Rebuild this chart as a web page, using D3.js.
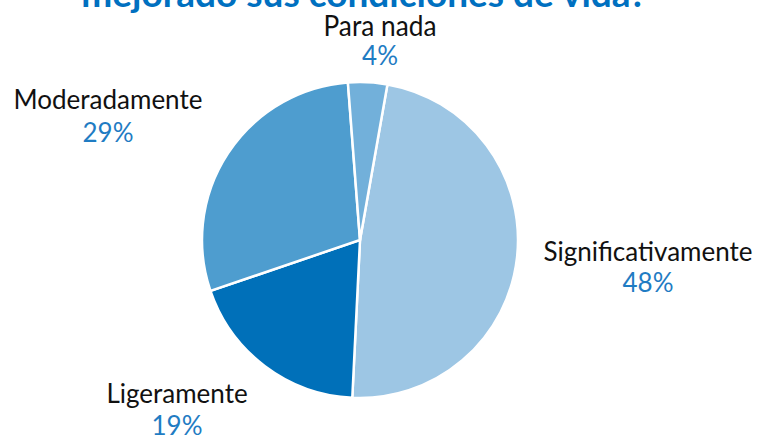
<!DOCTYPE html>
<html>
  <head>
    <meta charset="utf-8" />
    <title>Condiciones de vida</title>
    <script src="https://cdnjs.cloudflare.com/ajax/libs/d3/7.8.5/d3.min.js"></script>
    <style>
      body {
        margin: 0;
        background: #ffffff;
        font-family: Lato, "Noto Sans", sans-serif;
      }
      .slice {
        stroke: #ffffff;
        stroke-width: 2.5px;
      }
      .title {
        fill: #0070c0;
        font-weight: bold;
        font-size: 37px;
      }
      .cat {
        fill: #111111;
        font-size: 26px;
      }
      .pct {
        fill: #1f7cc3;
        font-size: 26px;
      }
    </style>
  </head>
  <body>
    <svg id="chart" width="759" height="438"></svg>
    <script>
      const width = 759;
      const height = 438;

      // data, clockwise from the top
      const categories = ["Significativamente", "Ligeramente", "Moderadamente", "Para nada"];
      const values = [48, 19, 29, 4];
      const colors = ["#9dc6e4", "#0070b9", "#4e9dcf", "#72b0da"];

      // where each label sits (center x, baseline of the name, gap to the %)
      const labelPos = [
        [648, 261, 31],
        [177, 403, 32],
        [108, 109, 33],
        [380, 36, 29],
      ];

      const svg = d3.select("#chart");

      // title, only its lower part shows
      svg
        .append("text")
        .attr("class", "title")
        .attr("x", 364)
        .attr("y", 7)
        .attr("text-anchor", "middle")
        .text("mejorado sus condiciones de vida?");

      const cx = 360;
      const cy = 240;
      const radius = 158;

      const startAngle = (10 * Math.PI) / 180;
      const pie = d3
        .pie()
        .sort(null)
        .startAngle(startAngle)
        .endAngle(startAngle + 2 * Math.PI);

      const arc = d3.arc().innerRadius(0).outerRadius(radius);

      const data = categories.map((c, i) => ({ name: c, value: values[i], i: i }));

      const g = svg.append("g").attr("transform", `translate(${cx},${cy})`);

      g.selectAll("path")
        .data(pie.value((d) => d.value)(data))
        .enter()
        .append("path")
        .attr("class", "slice")
        .attr("d", arc)
        .attr("fill", (d) => colors[d.data.i]);

      // labels
      const labels = svg
        .selectAll(".label")
        .data(data)
        .enter()
        .append("g")
        .attr("class", "label")
        .attr("transform", (d) => `translate(${labelPos[d.i][0]},${labelPos[d.i][1]})`);

      const names = labels
        .append("text")
        .attr("class", "cat")
        .attr("text-anchor", "middle")
        .text((d) => d.name);

      // "Para nada" is set tighter in the original
      names
        .filter((d) => d.i === 3)
        .style("font-size", "28px")
        .attr("textLength", 113)
        .attr("lengthAdjust", "spacingAndGlyphs");

      labels
        .append("text")
        .attr("class", "pct")
        .attr("text-anchor", "middle")
        .attr("y", (d) => labelPos[d.i][2])
        .text((d) => d.value + "%");
    </script>
  </body>
</html>
